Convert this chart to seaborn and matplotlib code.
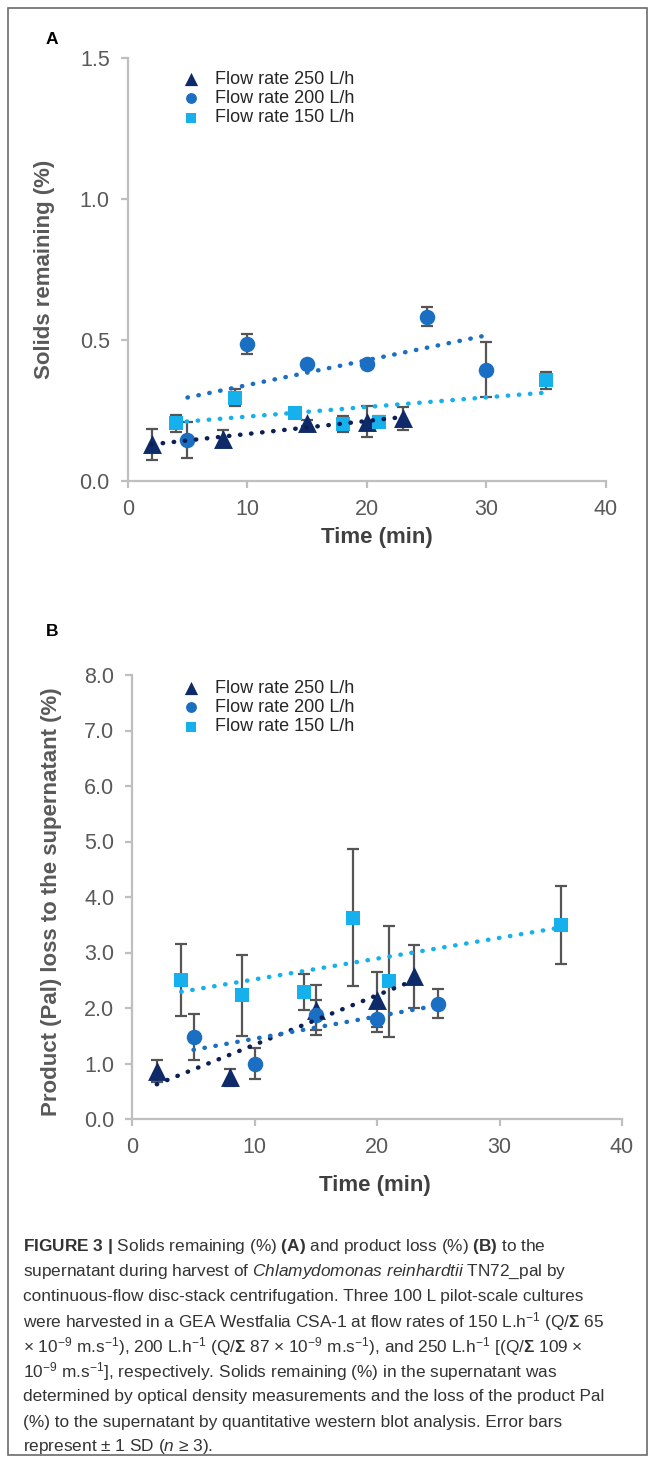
import numpy as np
import pandas as pd
import seaborn as sns
import matplotlib.pyplot as plt
from matplotlib.patches import Rectangle

# Set style
sns.set_theme(style="white")
plt.rcParams['font.family'] = ['Liberation Sans', 'DejaVu Sans']
plt.rcParams['mathtext.fontset'] = 'custom'
plt.rcParams['mathtext.rm'] = 'Liberation Sans'
plt.rcParams['mathtext.it'] = 'Liberation Sans:italic'
plt.rcParams['mathtext.bf'] = 'Liberation Sans:bold'

# Data
series_labels = ['Flow rate 250 L/h', 'Flow rate 200 L/h', 'Flow rate 150 L/h']

time_250 = [2, 8, 15, 20, 23]
time_200_a = [5, 10, 15, 20, 25, 30]
time_200_b = [5, 10, 15, 20, 25]
time_150 = [4, 9, 14, 18, 21, 35]

# Panel A - solids remaining (%)
solids_250 = [0.13, 0.15, 0.205, 0.21, 0.222]
solids_250_sd = [0.055, 0.03, 0.01, 0.055, 0.04]
solids_200 = [0.145, 0.485, 0.415, 0.415, 0.583, 0.395]
solids_200_sd = [0.065, 0.035, 0.01, 0.01, 0.035, 0.097]
solids_150 = [0.205, 0.295, 0.24, 0.202, 0.21, 0.358]
solids_150_sd = [0.03, 0.03, 0.01, 0.03, 0.02, 0.03]

# Panel B - product (Pal) loss (%)
loss_250 = [0.86, 0.75, 1.97, 2.15, 2.57]
loss_250_sd = [0.2, 0.15, 0.45, 0.5, 0.57]
loss_200 = [1.48, 1.0, 1.87, 1.81, 2.08]
loss_200_sd = [0.42, 0.28, 0.27, 0.25, 0.26]
loss_150 = [2.51, 2.23, 2.29, 3.63, 2.48, 3.49]
loss_150_sd = [0.65, 0.73, 0.33, 1.23, 1.0, 0.7]

x_ticks = [0, 10, 20, 30, 40]
a_yticks = [0.0, 0.5, 1.0, 1.5]
b_yticks = [0, 1, 2, 3, 4, 5, 6, 7, 8]

caption_lines = [
    r"$\mathbf{FIGURE\ 3\ |}$ Solids remaining (%) $\mathbf{(A)}$ and product loss (%) $\mathbf{(B)}$ to the",
    r"supernatant during harvest of $\mathit{Chlamydomonas\ reinhardtii}$ TN72_pal by",
    "continuous-flow disc-stack centrifugation. Three 100 L pilot-scale cultures",
    r"were harvested in a GEA Westfalia CSA-1 at flow rates of 150 L.h$^{-1}$ (Q/$\mathbf{\Sigma}$ 65",
    r"× 10$^{-9}$ m.s$^{-1}$), 200 L.h$^{-1}$ (Q/$\mathbf{\Sigma}$ 87 × 10$^{-9}$ m.s$^{-1}$), and 250 L.h$^{-1}$ [(Q/$\mathbf{\Sigma}$ 109 ×",
    r"10$^{-9}$ m.s$^{-1}$], respectively. Solids remaining (%) in the supernatant was",
    "determined by optical density measurements and the loss of the product Pal",
    "(%) to the supernatant by quantitative western blot analysis. Error bars",
    r"represent ± 1 SD ($\mathit{n}$ ≥ 3).",
]

# Styles
MARKERS = ['^', 'o', 's']
SIZES = [185, 125, 110]
COLORS = ['#0f2a68', '#1b6fc2', '#16b1ec']
TREND_COLORS = ['#0c1f55', '#1b6fc2', '#16b1ec']
AXIS_GREY = '#bfbfbf'
TEXT_GREY = '#595959'

W, H = 655, 1463
fig = plt.figure(figsize=(W / 100, H / 100), dpi=100)


def px_rect(left, top, right, bottom):
    return [left / W, 1 - bottom / H, (right - left) / W, (bottom - top) / H]


def draw_panel(ax, times, values, sds, ylim, yticks, yfmt, ylabel):
    for i in range(3):
        df = pd.DataFrame({'time': times[i], 'value': values[i], 'sd': sds[i]})
        ax.errorbar(df['time'], df['value'], yerr=df['sd'], fmt='none',
                    ecolor='#555555', elinewidth=1.6, capsize=4.5, capthick=1.6, zorder=2)
        sns.scatterplot(data=df, x='time', y='value', marker=MARKERS[i], s=SIZES[i],
                        color=COLORS[i], linewidth=0, label=series_labels[i], ax=ax, zorder=3)
    for i in range(3):
        df = pd.DataFrame({'time': times[i], 'value': values[i]})
        sns.regplot(data=df, x='time', y='value', scatter=False, ci=None, truncate=True,
                    color=TREND_COLORS[i], ax=ax,
                    line_kws=dict(ls=(0, (0.1, 2.4)), lw=3.2, dash_capstyle='round', zorder=4))

    ax.set_xlim(0, 40)
    ax.set_ylim(*ylim)
    ax.set_xticks(x_ticks)
    ax.set_yticks(yticks)
    ax.set_yticklabels([yfmt.format(v) for v in yticks])
    sns.despine(ax=ax)
    for side in ['left', 'bottom']:
        ax.spines[side].set_color(AXIS_GREY)
        ax.spines[side].set_linewidth(1.6)
    ax.tick_params(axis='both', direction='out', length=5, width=1.6, color=AXIS_GREY,
                   labelsize=15.5, labelcolor=TEXT_GREY, pad=8, left=True, bottom=True)
    ax.set_xlabel('Time (min)', fontsize=16, fontweight='bold', color='#404040')
    ax.set_ylabel(ylabel, fontsize=16, fontweight='bold', color=TEXT_GREY)


# Panel A
ax_a = fig.add_axes(px_rect(127.7, 58, 606, 481))
draw_panel(ax_a, [time_250, time_200_a, time_150],
           [solids_250, solids_200, solids_150],
           [solids_250_sd, solids_200_sd, solids_150_sd],
           (0, 1.5), a_yticks, '{:.1f}', 'Solids remaining (%)')
ax_a.xaxis.set_label_coords(0.52, -0.108)
ax_a.yaxis.set_label_coords(-0.153, 0.5)
ax_a.legend(loc='upper left', bbox_to_anchor=(184 / W, 1 - 71 / H), bbox_transform=fig.transFigure,
            frameon=False, fontsize=13, markerscale=0.7, handlelength=0.8, handletextpad=0.9,
            labelspacing=0.12, borderpad=0, borderaxespad=0, labelcolor='#262626')

# Panel B
ax_b = fig.add_axes(px_rect(132.3, 675, 622, 1119))
draw_panel(ax_b, [time_250, time_200_b, time_150],
           [loss_250, loss_200, loss_150],
           [loss_250_sd, loss_200_sd, loss_150_sd],
           (0, 8), b_yticks, '{:.1f}', 'Product (Pal) loss to the supernatant (%)')
ax_b.xaxis.set_label_coords(0.496, -0.125)
ax_b.yaxis.set_label_coords(-0.144, 0.49)
ax_b.legend(loc='upper left', bbox_to_anchor=(184 / W, 1 - 680 / H), bbox_transform=fig.transFigure,
            frameon=False, fontsize=13, markerscale=0.7, handlelength=0.8, handletextpad=0.9,
            labelspacing=0.12, borderpad=0, borderaxespad=0, labelcolor='#262626')

# Panel letters
fig.text(52 / W, 1 - 39 / H, 'A', fontsize=12.5, fontweight='bold', color='black', ha='center', va='center')
fig.text(52 / W, 1 - 632 / H, 'B', fontsize=12.5, fontweight='bold', color='black', ha='center', va='center')

# Caption
for i, line in enumerate(caption_lines):
    fig.text(23 / W, 1 - (1247 + 25 * i) / H, line, fontsize=12.4, color='#333333', ha='left', va='center')

# Outer frame
fig.patches.append(Rectangle((8 / W, 8 / H), 639 / W, 1447 / H, transform=fig.transFigure,
                             fill=False, edgecolor='#6b6b6b', linewidth=1.2))

fig.savefig('out.png', dpi=100)
